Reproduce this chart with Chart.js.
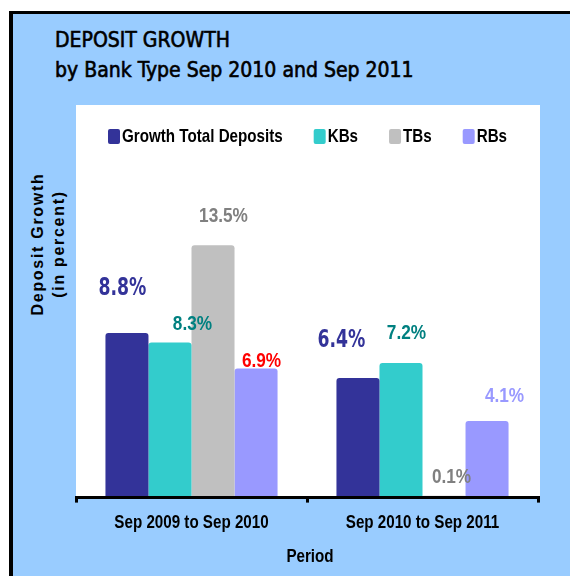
<!DOCTYPE html>
<html>
<head>
<meta charset="utf-8">
<script src="https://cdn.jsdelivr.net/npm/chart.js@4.4.1/dist/chart.umd.min.js"></script>
<style>
  body { margin: 0; background: #fff; width: 570px; height: 576px; overflow: hidden; position: relative; }
  #frame { position: absolute; left: 9px; top: 11px; width: 570px; height: 570px;
    border-left: 4px solid #000; border-top: 3px solid #000; background: #99CCFF; }
  #title { position: absolute; left: 55px; top: 26px; margin: 0; -webkit-text-stroke: 0.6px #000;
    font: normal 21px/29.5px "DejaVu Sans Condensed", "DejaVu Sans", sans-serif; color: #000; }
  #ytitle { position: absolute; left: 48px; top: 244px; width: 200px; margin-left: -100px; margin-top: -21px;
    transform: rotate(-90deg); text-align: center; letter-spacing: 1.7px;
    font: bold 16px/21px "Liberation Sans", Arial, sans-serif; color: #000; }
  canvas { position: absolute; left: 0; top: 0; }
</style>
</head>
<body>
<div id="frame"></div>
<div id="title">DEPOSIT GROWTH<br>by Bank Type Sep 2010 and Sep 2011</div>
<div id="ytitle">Deposit Growth<br>(in percent)</div>
<canvas id="myChart" width="570" height="576"></canvas>
<script>
// data
var periods = ["Sep 2009 to Sep 2010", "Sep 2010 to Sep 2011"];
var seriesNames = ["Growth Total Deposits", "KBs", "TBs", "RBs"];
var totalGrowth = [8.8, 6.4];
var kbsGrowth = [8.3, 7.2];
var tbsGrowth = [13.5, 0.1];
var rbsGrowth = [6.9, 4.1];
var xTitle = "Period";

// styles
var barColors = ["#333399", "#33CCCC", "#C0C0C0", "#9999FF"];
var labelColors = [
  ["#333399", "#333399"],
  ["#008080", "#008080"],
  ["#808080", "#808080"],
  ["#FF0000", "#9999FF"]
];
// label offsets from bar top centre, as placed by hand in the original
var labelNudge = [
  [[-4.5, -45], [-16.5, -38]],
  [[22.5, -19], [5.5, -30.5]],
  [[10.5, -30], [7.5, -20]],
  [[5.5, -8], [17.5, -25.5]]
];
var arialBold = 'bold {s}px "Liberation Sans", Arial, sans-serif';
function arial(size) { return arialBold.replace("{s}", size); }

// draws text squeezed horizontally (the original uses narrow faces)
function narrowText(ctx, text, x, y, font, color, sx, align) {
  ctx.save();
  ctx.font = font;
  ctx.fillStyle = color;
  ctx.textBaseline = "middle";
  ctx.textAlign = align || "center";
  ctx.translate(x, y);
  ctx.scale(sx, 1);
  ctx.fillText(text, 0, 0);
  var w = ctx.measureText(text).width * sx;
  ctx.restore();
  return w;
}

var whiteArea = {
  id: "whiteArea",
  beforeDraw: function (chart) {
    var a = chart.chartArea, ctx = chart.ctx;
    ctx.save();
    ctx.fillStyle = "#ffffff";
    ctx.fillRect(a.left, a.top, a.right - a.left + 2, a.bottom - a.top);
    ctx.restore();
  }
};

var valueLabels = {
  id: "valueLabels",
  afterDatasetsDraw: function (chart) {
    var ctx = chart.ctx;
    chart.data.datasets.forEach(function (ds, i) {
      var meta = chart.getDatasetMeta(i);
      meta.data.forEach(function (bar, j) {
        var txt = ds.data[j].toFixed(1) + "%";
        var x = bar.x + labelNudge[i][j][0], y = bar.y + labelNudge[i][j][1] + 1;
        if (i === 0) {
          narrowText(ctx, txt, x, y, 'bold 24px "DejaVu Sans", sans-serif', labelColors[i][j], 0.72);
        } else {
          narrowText(ctx, txt, x, y, arial(21), labelColors[i][j], 0.82);
        }
      });
    });
  }
};

var overlayText = {
  id: "overlayText",
  afterDraw: function (chart) {
    var ctx = chart.ctx, a = chart.chartArea;
    // legend
    var x = a.left + 32, y = a.top + 24;
    chart.data.datasets.forEach(function (ds) {
      ctx.save();
      ctx.fillStyle = ds.backgroundColor;
      ctx.beginPath();
      ctx.roundRect(x, y, 12, 15, 2);
      ctx.fill();
      ctx.restore();
      x += 14;
      x += narrowText(ctx, ds.label, x, y + 8, arial(18.5), "#000", 0.82, "left") + 31;
    });
    // category labels and axis title
    var xs = chart.scales.x;
    periods.forEach(function (p, i) {
      narrowText(ctx, p, xs.getPixelForTick(i), a.bottom + 25, arial(18.5), "#000", 0.82);
    });
    narrowText(ctx, xTitle, (a.left + a.right) / 2 + 3, a.bottom + 59, arial(18.5), "#000", 0.82);
  }
};

new Chart(document.getElementById("myChart").getContext("2d"), {
  type: "bar",
  data: {
    labels: periods,
    datasets: [
      { label: seriesNames[0], data: totalGrowth, backgroundColor: barColors[0] },
      { label: seriesNames[1], data: kbsGrowth, backgroundColor: barColors[1] },
      { label: seriesNames[2], data: tbsGrowth, backgroundColor: barColors[2] },
      { label: seriesNames[3], data: rbsGrowth, backgroundColor: barColors[3] }
    ]
  },
  options: {
    responsive: false,
    animation: false,
    layout: { padding: { left: 76, right: 32, top: 105, bottom: 7 } },
    datasets: { bar: { categoryPercentage: 0.745, barPercentage: 1.0, borderRadius: { topLeft: 3, topRight: 3 }, borderSkipped: "bottom" } },
    plugins: {
      legend: { display: false },
      tooltip: { enabled: false }
    },
    scales: {
      y: { display: false, min: 0, max: 21 },
      x: {
        grid: { drawOnChartArea: false, drawTicks: true, tickLength: 5, color: "#000", lineWidth: 3 },
        border: { display: true, color: "#000", width: 3, z: 1 },
        ticks: { color: "rgba(0,0,0,0)", padding: 9, font: { size: 18.5, lineHeight: 1.2 } },
        title: { display: true, text: xTitle, color: "rgba(0,0,0,0)", padding: { top: 4, bottom: 0 },
          font: { size: 18.5, lineHeight: 1.2 } }
      }
    }
  },
  plugins: [whiteArea, valueLabels, overlayText]
});
</script>
</body>
</html>
